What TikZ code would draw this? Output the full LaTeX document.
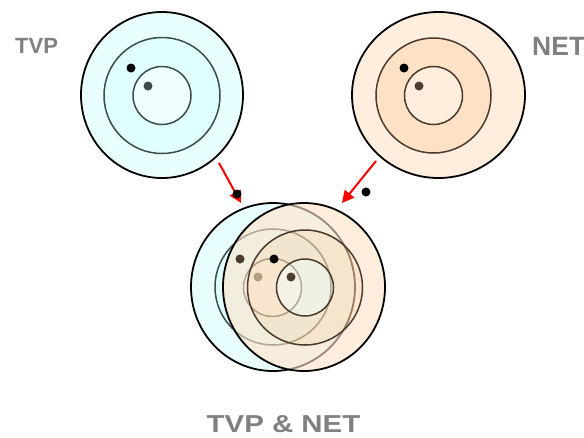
\documentclass[tikz,border=0pt]{standalone}
\usepackage{fontspec}
\setmainfont{Liberation Sans}
\usetikzlibrary{arrows.meta,shapes.geometric}
\definecolor{tvpA}{RGB}{233,255,255}
\definecolor{tvpB}{RGB}{224,255,255}
\definecolor{tvpC}{RGB}{239,255,255}
\definecolor{tvpLine}{RGB}{58,76,76}
\definecolor{tvpDot}{RGB}{60,76,74}
\definecolor{netA}{RGB}{255,237,221}
\definecolor{netB}{RGB}{255,226,198}
\definecolor{netC}{RGB}{255,238,222}
\definecolor{netA2}{RGB}{255,226,199}
\definecolor{netB2}{RGB}{255,212,172}
\definecolor{netC2}{RGB}{250,232,210}
\definecolor{netLine}{RGB}{74,58,46}
\definecolor{netDot}{RGB}{78,62,48}
\definecolor{mixDotA}{RGB}{74,60,46}
\definecolor{mixDotB}{RGB}{176,158,132}
\definecolor{labelgray}{RGB}{128,128,128}
\definecolor{arrowred}{RGB}{255,0,0}
\begin{document}
\begin{tikzpicture}[x=1pt,y=-1pt,
  outerring/.style={draw=black,line width=1.8pt,inner sep=0pt},
  ring/.style={circle,line width=1.5pt,inner sep=0pt},
  dot/.style={circle,inner sep=0pt,minimum size=9pt},
  lbl/.style={text=labelgray},
  flow/.style={draw=arrowred,line width=2pt,-{Triangle[length=12pt,width=12pt]}}]
\useasboundingbox (0,0) rectangle (584,437);

% ---------- TVP (top left)
\node[ellipse,outerring,fill=tvpA,minimum width=162pt,minimum height=166pt] (tvpOuter) at (162,95) {};
\node[ring,draw=tvpLine,fill=tvpB,minimum size=116pt] (tvpMid) at (162,95.5) {};
\node[ring,draw=tvpLine,fill=tvpC,minimum size=58pt] (tvpIn) at (162,95.5) {};
\node[dot,fill=black] (tvpDotA) at (131,68) {};
\node[dot,fill=tvpDot] (tvpDotB) at (148,86) {};

% ---------- NET (top right)
\node[ellipse,outerring,fill=netA,minimum width=173pt,minimum height=166pt] (netOuter) at (438.5,95) {};
\node[ring,draw=netLine,fill=netB,minimum size=115pt] (netMid) at (433.5,95.5) {};
\node[ring,draw=netLine,fill=netC,minimum size=58pt] (netIn) at (433.5,95.5) {};
\node[dot,fill=black] (netDotA) at (404,68) {};
\node[dot,fill=netDot] (netDotB) at (419,86) {};

% ---------- labels
\node[lbl,font=\bfseries\fontsize{22}{22}\selectfont,anchor=base west,inner sep=0pt] (tvpLabel) at (15,53) {TVP};
\node[lbl,font=\bfseries\fontsize{26.5}{26.5}\selectfont,anchor=base west,inner sep=0pt] (netLabel) at (532,55) {NET};
\node[lbl,font=\bfseries\fontsize{24.5}{24.5}\selectfont,anchor=base,inner sep=0pt,xscale=1.2] (bothLabel) at (283.5,432.5) {TVP \& NET};

% ---------- arrows and loose dots
\coordinate (arrLs) at (219,163);
\coordinate (arrLe) at (241,203);
\coordinate (arrRs) at (376,161);
\coordinate (arrRe) at (342,203);
\draw[flow] (arrLs) -- (arrLe);
\draw[flow] (arrRs) -- (arrRe);
\node[dot,fill=black] (looseL) at (237,194) {};
\node[dot,fill=black] (looseR) at (366,192) {};

% ---------- combined (bottom): TVP layer
\node[ellipse,outerring,fill=tvpA,minimum width=164pt,minimum height=168pt] (bTvpOuter) at (273,287) {};
\node[ring,draw=tvpLine,fill=tvpB,minimum size=116pt] (bTvpMid) at (273,287) {};
\node[ring,draw=tvpLine,fill=tvpC,minimum size=58pt] (bTvpIn) at (272.5,287.5) {};

% ---------- combined (bottom): NET layer, translucent fills
\begin{scope}[transparency group,opacity=0.6]
  \fill[netA2] (304,287) ellipse [x radius=81,y radius=84];
  \fill[netB2] (305,287.5) circle [radius=57.5];
  \fill[netC2] (305,287.5) circle [radius=28.5];
\end{scope}
\node[dot,fill=mixDotA] (bTvpDotA) at (240,259) {};
\node[dot,fill=mixDotB] (bTvpDotB) at (258,277) {};
\node[ellipse,outerring,minimum width=162pt,minimum height=168pt] (bNetOuter) at (304,287) {};
\node[ring,draw=netLine,minimum size=115pt] (bNetMid) at (305,287.5) {};
\node[ring,draw=netLine,minimum size=57pt] (bNetIn) at (305,287.5) {};
\node[dot,fill=black] (bNetDotA) at (274,259) {};
\node[dot,fill=netDot] (bNetDotB) at (291,277) {};
\end{tikzpicture}
\end{document}
